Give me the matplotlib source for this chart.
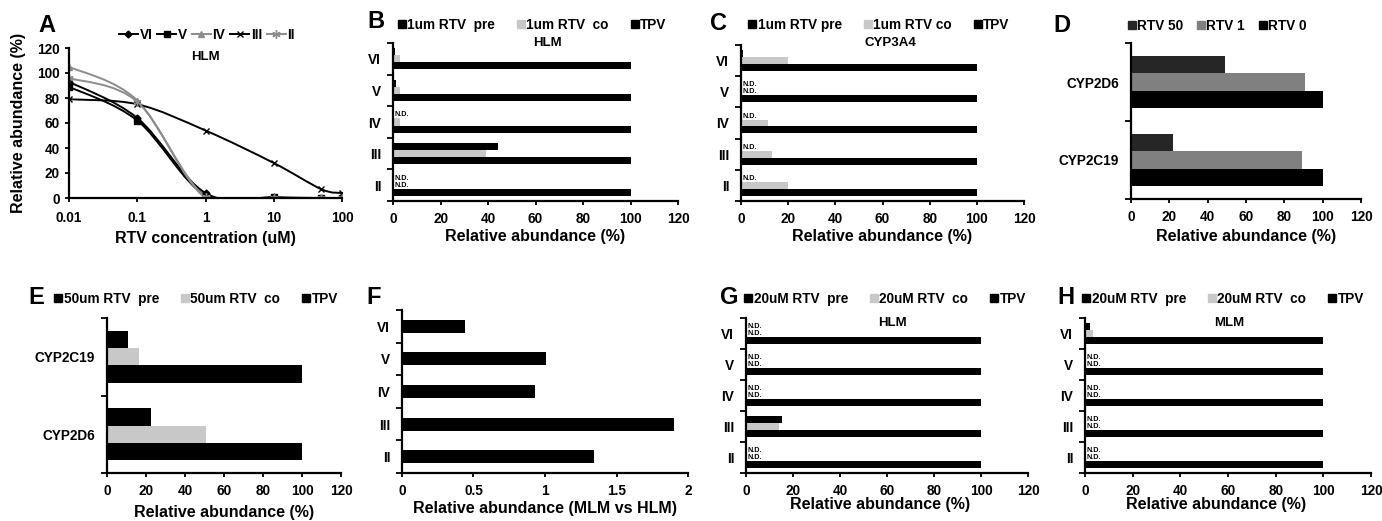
import numpy as np
import matplotlib
matplotlib.use("Agg")
import matplotlib.pyplot as plt
from matplotlib.path import Path
from matplotlib.patches import PathPatch
from matplotlib.lines import Line2D

plt.rcParams['font.family'] = ['Liberation Sans', 'DejaVu Sans']
plt.rcParams['font.weight'] = 'bold'

# ---- data ----
# panel A: metabolite abundance vs RTV concentration (HLM)
conc = [0.01, 0.1, 1, 10, 50, 100]
a_vi = [93, 64, 4, 0.5, 0, 0]
a_v = [89, 62, 2, 0.5, 0, 0]
a_iv = [105, 78, 0, 0, 0, 0]
a_iii = [79, 75, 54, 28, 7, 4]
a_ii = [96, 77, 1, 0, 0, 0]

# metabolites, listed bottom -> top
met_cats = ['II', 'III', 'IV', 'V', 'VI']

# None = N.D.
b_pre = [None, 44, None, 1.2, 1.0]
b_co = [None, 39, 3, 3, 3]
b_tpv = [100, 100, 100, 100, 100]

c_pre = [None, None, None, None, 0.7]
c_co = [20, 13, 11.5, None, 20]
c_tpv = [100, 100, 100, 100, 100]

d_cats = ['CYP2C19', 'CYP2D6']
d_rtv50 = [22, 49]
d_rtv1 = [89, 91]
d_rtv0 = [100, 100]

e_cats = ['CYP2D6', 'CYP2C19']
e_pre = [22.5, 10.7]
e_co = [51, 16.3]
e_tpv = [100, 100]

f_vals = [1.34, 1.90, 0.93, 1.01, 0.44]

g_pre = [None, 15.4, None, None, None]
g_co = [None, 14.2, None, None, None]
g_tpv = [100, 100, 100, 100, 100]

h_pre = [None, None, None, None, 2.0]
h_co = [None, None, None, None, 3.5]
h_tpv = [100, 100, 100, 100, 100]

BLACK = '#000000'
LIGHT = '#c8c8c8'
DARK = '#262626'
MID = '#808080'

TICK_FS = 9.8
LAB_FS = 11.5
LEG_FS = 9.8

W, H = 1382, 521
fig = plt.figure(figsize=(W / 100, H / 100), dpi=100)


def px_axes(l, t, r, b):
    ax = fig.add_axes([l / W, 1 - b / H, (r - l) / W, (b - t) / H])
    ax.spines['top'].set_visible(False)
    ax.spines['right'].set_visible(False)
    ax.spines['left'].set_linewidth(1.6)
    ax.spines['bottom'].set_linewidth(1.6)
    ax.tick_params(direction='out', width=1.3, length=3, labelsize=TICK_FS)
    ax.tick_params(axis='x', pad=5)
    return ax


def ftext(x, y, s, size, **kw):
    fig.text(x / W, 1 - y / H, s, fontsize=size, fontweight='bold',
             ha=kw.pop('ha', 'center'), va=kw.pop('va', 'center'), **kw)


def sq_legend(labels, colors, cx, cy, colsp=1.6):
    hs = [Line2D([], [], ls='none', marker='s', markersize=5.5, color=c) for c in colors]
    fig.legend(hs, labels, loc='center', bbox_to_anchor=(cx / W, 1 - cy / H),
               ncol=len(labels), frameon=False, fontsize=LEG_FS, handlelength=0.6,
               handletextpad=0.1, columnspacing=colsp, borderpad=0)


def cat_axis(ax, cats):
    n = len(cats)
    ax.set_ylim(-0.5, n - 0.5)
    ax.set_yticks(np.arange(n + 1) - 0.5)
    ax.set_yticklabels([])
    ax.set_yticks(np.arange(n), minor=True)
    ax.set_yticklabels(cats, minor=True)
    ax.tick_params(axis='y', which='major', length=4)
    ax.tick_params(axis='y', which='minor', length=0, pad=8.5, labelsize=TICK_FS)


def grouped(ax, cats, series, colors, nd=True):
    h = 1 / 4.5
    y = np.arange(len(cats))
    offs = [h, 0, -h]
    for vals, col, off in zip(series, colors, offs):
        for yi, v in zip(y, vals):
            if v is None:
                if nd:
                    ax.text(0.8, yi + off, 'N.D.', fontsize=5.2, fontweight='bold',
                            ha='left', va='center')
            else:
                ax.barh(yi + off, v, height=h, color=col, linewidth=0)
    cat_axis(ax, cats)
    ax.set_xlim(0, 120)
    ax.set_xticks(range(0, 121, 20))


def smooth_path(xs, ys):
    # excel-like smoothed line, built in log10(x) space
    p = np.column_stack([np.log10(xs), ys]).astype(float)
    n = len(p)
    verts = [p[0]]
    codes = [Path.MOVETO]
    for i in range(n - 1):
        p0 = p[i - 1] if i > 0 else p[i]
        p3 = p[i + 2] if i + 2 < n else p[i + 1]
        c1 = p[i] + (p[i + 1] - p0) / 6
        c2 = p[i + 1] - (p3 - p[i]) / 6
        verts += [c1, c2, p[i + 1]]
        codes += [Path.CURVE4] * 3
    v = np.array(verts)
    v[:, 0] = 10 ** v[:, 0]
    return Path(v, codes)


# ---- A ----
ax = px_axes(69, 48, 342, 198)
ax.set_xscale('log')
a_series = [
    ('VI', a_vi, BLACK, 'D', 3.5),
    ('V', a_v, BLACK, 's', 4),
    ('IV', a_iv, '#8c8c8c', '^', 4),
    ('III', a_iii, BLACK, 'x', 4.5),
    ('II', a_ii, '#8c8c8c', (6, 2, 0), 6),
]
handles = []
for name, vals, col, mk, ms in a_series:
    ax.add_patch(PathPatch(smooth_path(conc, vals), fill=False, edgecolor=col, lw=1.4))
    ax.plot(conc, vals, ls='none', marker=mk, ms=ms, color=col, mew=1)
    handles.append(Line2D([], [], color=col, lw=1.4, marker=mk, ms=ms, mew=1))
ax.set_xlim(0.01, 100)
ax.set_ylim(0, 120)
ax.set_xticks([0.01, 0.1, 1, 10, 100])
ax.set_xticklabels(['0.01', '0.1', '1', '10', '100'])
ax.minorticks_off()
ax.set_yticks(range(0, 121, 20))
ax.tick_params(axis='x', pad=6)
ax.tick_params(axis='y', pad=3.5)
fig.legend(handles, [s[0] for s in a_series], loc='center',
           bbox_to_anchor=(207 / W, 1 - 35 / H), ncol=5, frameon=False, fontsize=LEG_FS,
           handlelength=1.4, handletextpad=0.12, columnspacing=0.35, borderpad=0)
ftext(205, 57, 'HLM', 9.5)
ftext(47, 26, 'A', 17)
ftext(19, 123, 'Relative abundance (%)', LAB_FS, rotation=90)
ftext(205, 238, 'RTV concentration (uM)', LAB_FS)

# ---- B ----
ax = px_axes(393, 43, 678, 201)
grouped(ax, met_cats, [b_pre, b_co, b_tpv], [BLACK, LIGHT, BLACK])
sq_legend(['1um RTV  pre', '1um RTV  co', 'TPV'], [BLACK, LIGHT, BLACK], 532, 25)
ftext(547, 43, 'HLM', 9.5)
ftext(376, 22, 'B', 17)
ftext(535, 237, 'Relative abundance (%)', LAB_FS)

# ---- C ----
ax = px_axes(741, 45, 1024, 201)
grouped(ax, met_cats, [c_pre, c_co, c_tpv], [BLACK, LIGHT, BLACK])
sq_legend(['1um RTV pre', '1um RTV co', 'TPV'], [BLACK, LIGHT, BLACK], 879, 25)
ftext(890, 43, 'CYP3A4', 9.5)
ftext(719, 24, 'C', 17)
ftext(882, 237, 'Relative abundance (%)', LAB_FS)

# ---- D ----
ax = px_axes(1131, 43, 1361, 199)
grouped(ax, d_cats, [d_rtv50, d_rtv1, d_rtv0], [DARK, MID, BLACK], nd=False)
sq_legend(['RTV 50', 'RTV 1', 'RTV 0'], [DARK, MID, BLACK], 1217, 26, colsp=1.0)
ftext(1062, 26, 'D', 17)
ftext(1246, 237, 'Relative abundance (%)', LAB_FS)

# ---- E ----
ax = px_axes(107, 318, 341, 473)
grouped(ax, e_cats, [e_pre, e_co, e_tpv], [BLACK, LIGHT, BLACK], nd=False)
sq_legend(['50um RTV  pre', '50um RTV  co', 'TPV'], [BLACK, LIGHT, BLACK], 196, 299)
ftext(36, 298, 'E', 17)
ftext(224, 512, 'Relative abundance (%)', LAB_FS)

# ---- F ----
ax = px_axes(402, 310, 688, 473)
ax.barh(np.arange(len(met_cats)), f_vals, height=0.4, color=BLACK, linewidth=0)
cat_axis(ax, met_cats)
ax.set_xlim(0, 2)
ax.set_xticks([0, 0.5, 1, 1.5, 2])
ax.set_xticklabels(['0', '0.5', '1', '1.5', '2'])
ftext(374, 298, 'F', 17)
ftext(545, 508, 'Relative abundance (MLM vs HLM)', LAB_FS)

# ---- G ----
ax = px_axes(746, 318, 1028, 473)
grouped(ax, met_cats, [g_pre, g_co, g_tpv], [BLACK, LIGHT, BLACK])
sq_legend(['20uM RTV  pre', '20uM RTV  co', 'TPV'], [BLACK, LIGHT, BLACK], 885, 299)
ftext(892, 323, 'HLM', 9.5)
ftext(729, 298, 'G', 17)
ftext(880, 505, 'Relative abundance (%)', LAB_FS)

# ---- H ----
ax = px_axes(1085, 318, 1371, 473)
grouped(ax, met_cats, [h_pre, h_co, h_tpv], [BLACK, LIGHT, BLACK])
sq_legend(['20uM RTV  pre', '20uM RTV  co', 'TPV'], [BLACK, LIGHT, BLACK], 1223, 299)
ftext(1229, 323, 'MLM', 9.5)
ftext(1066, 298, 'H', 17)
ftext(1216, 505, 'Relative abundance (%)', LAB_FS)

fig.savefig('out.png', dpi=100)
